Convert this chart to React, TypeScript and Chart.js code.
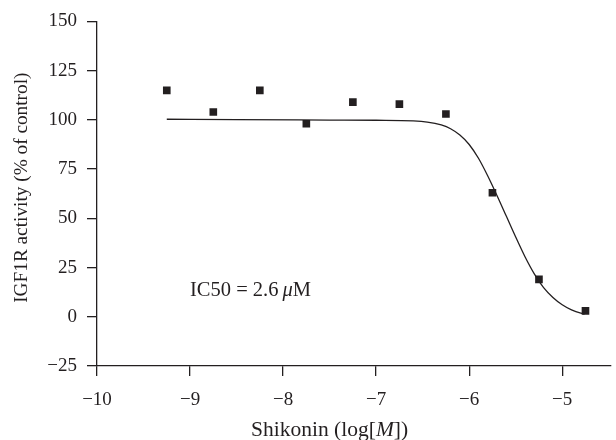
import React, { useEffect, useRef } from "react";
import { Chart, registerables } from "chart.js";

Chart.register(...registerables);

// ---- data ----
const xTickValues = [-10, -9, -8, -7, -6, -5];
const yTickValues = [-25, 0, 25, 50, 75, 100, 125, 150];

// measured points: Shikonin log[M] vs IGF1R activity (% of control)
const doseLogM = [-9.25, -8.75, -8.25, -7.75, -7.25, -6.75, -6.25, -5.75, -5.25, -4.75];
const activityPct = [115, 104, 115, 98, 109, 108, 103, 63, 19, 3];

// fitted dose-response curve
const fitLogM = [-9.25, -8.5, -7.5, -7.0, -6.6, -6.45, -6.3, -6.2, -6.1, -6.0, -5.9, -5.8, -5.7, -5.6, -5.5, -5.4, -5.3, -5.2, -5.1, -5.0, -4.9, -4.8, -4.76];
const fitPct = [100.3, 100.1, 99.9, 99.8, 99.5, 98.9, 97.4, 95.5, 92.3, 87.5, 80.5, 71.5, 61.5, 51, 40.5, 30.5, 21.8, 14.8, 9.8, 6.1, 3.5, 1.8, 1.4];

const yTitle = "IGF1R activity (% of control)";
const xTitleParts: [string, boolean][] = [["Shikonin (log[", false], ["M", true], ["])", false]];
const noteParts: [string, boolean][] = [["IC50 = 2.6\u2009", false], ["\u03bc", true], ["M", false]];
const notePos = { x: -9, y: 10.5 };

const INK = "#231f20";
const FAMILY = "'Liberation Serif', 'DejaVu Serif', serif";

const fmt = (v: number | string) => {
  const n = Number(v);
  return n < 0 ? "\u2212" + Math.abs(n) : String(n);
};

function drawParts(ctx: CanvasRenderingContext2D, parts: [string, boolean][], size: number, x: number, y: number, align: "left" | "center") {
  const widths = parts.map(([t, it]) => {
    ctx.font = `${it ? "italic " : ""}${size}px ${FAMILY}`;
    return ctx.measureText(t).width;
  });
  const total = widths.reduce((a, b) => a + b, 0);
  let cx = align === "center" ? x - total / 2 : x;
  ctx.textAlign = "left";
  parts.forEach(([t, it], i) => {
    ctx.font = `${it ? "italic " : ""}${size}px ${FAMILY}`;
    ctx.fillText(t, cx, y);
    cx += widths[i];
  });
}

const textPlugin = {
  id: "texts",
  afterDraw(chart: any) {
    const { ctx, chartArea, scales } = chart;
    ctx.save();
    ctx.fillStyle = INK;
    ctx.textBaseline = "alphabetic";
    // x title
    drawParts(ctx, xTitleParts, 21.5, scales.x.getPixelForValue(-7.5), 436, "center");
    // note
    drawParts(ctx, noteParts, 20.5, scales.x.getPixelForValue(notePos.x), scales.y.getPixelForValue(notePos.y), "left");
    // y title
    ctx.translate(27, (chartArea.top + chartArea.bottom) / 2 - 6);
    ctx.rotate(-Math.PI / 2);
    ctx.font = `19.3px ${FAMILY}`;
    ctx.textAlign = "center";
    ctx.fillText(yTitle, 0, 0);
    ctx.restore();
  },
};

export default function App() {
  const ref = useRef<HTMLCanvasElement | null>(null);
  useEffect(() => {
    if (!ref.current) return;
    const tickFont = { family: FAMILY, size: 19 };
    const chart = new Chart(ref.current, {
      type: "scatter",
      data: {
        datasets: [
          {
            data: fitLogM.map((x, i) => ({ x, y: fitPct[i] })),
            showLine: true,
            borderColor: INK,
            borderWidth: 1.3,
            pointRadius: 0,
            cubicInterpolationMode: "monotone",
            fill: false,
          } as any,
          {
            data: doseLogM.map((x, i) => ({ x, y: activityPct[i] })),
            showLine: false,
            pointStyle: "rect",
            pointRadius: 5.4,
            backgroundColor: INK,
            borderWidth: 0,
          } as any,
        ],
      },
      options: {
        animation: false,
        responsive: false,
        devicePixelRatio: 1,
        layout: { padding: { top: 21, left: 0, right: 0, bottom: 0 } },
        plugins: { legend: { display: false }, tooltip: { enabled: false } },
        scales: {
          x: {
            type: "linear",
            min: -10,
            max: -4.48,
            afterBuildTicks: (s: any) => {
              s.ticks = xTickValues.map((v) => ({ value: v }));
            },
            afterFit: (s: any) => {
              s.height = 74;
            },
            ticks: { callback: fmt, font: tickFont, color: INK, padding: 13, maxRotation: 0, autoSkip: false },
            grid: { display: true, drawOnChartArea: false, drawTicks: true, tickLength: 10, color: INK, lineWidth: 1.3 },
            border: { display: true, color: INK, width: 1.3 },
          },
          y: {
            type: "linear",
            min: -25,
            max: 150,
            afterBuildTicks: (s: any) => {
              s.ticks = yTickValues.map((v) => ({ value: v }));
            },
            afterFit: (s: any) => {
              s.width = 97;
            },
            ticks: { callback: fmt, font: tickFont, color: INK, padding: 10, autoSkip: false },
            grid: { display: true, drawOnChartArea: false, drawTicks: true, tickLength: 10, color: INK, lineWidth: 1.3 },
            border: { display: true, color: INK, width: 1.3 },
          },
        },
      } as any,
      plugins: [textPlugin],
    });
    return () => chart.destroy();
  }, []);
  return (
    <div style={{ position: "absolute", left: 0, top: 0, width: 616, height: 440, background: "#fff" }}>
      <canvas ref={ref} width={616} height={440} style={{ display: "block" }} />
    </div>
  );
}
